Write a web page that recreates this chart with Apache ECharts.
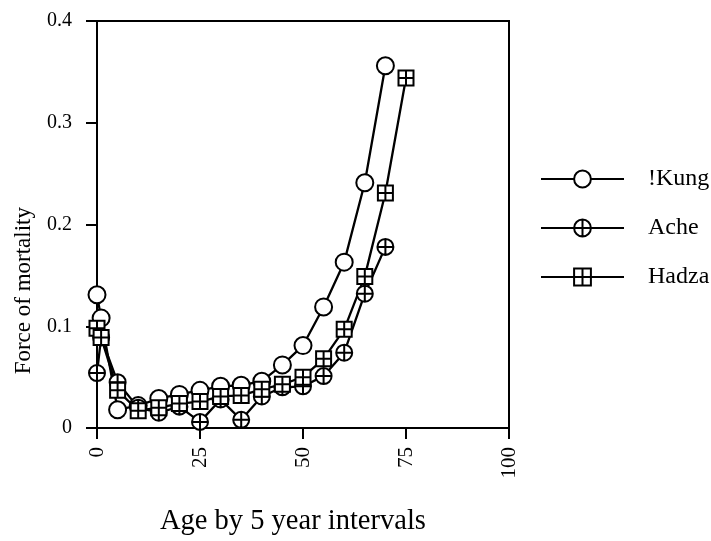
<!DOCTYPE html>
<html>
<head>
<meta charset="utf-8">
<script src="https://cdn.jsdelivr.net/npm/echarts@6/dist/echarts.min.js"></script>
<style>html,body{margin:0;padding:0;background:#fff}#c{width:711px;height:541px}</style>
</head>
<body>
<div id="c"></div>
<script>
const ages = [0, 1, 5, 10, 15, 20, 25, 30, 35, 40, 45, 50, 55, 60, 65, 70, 75];
const kung = [0.131, 0.108, 0.018, 0.022, 0.029, 0.033, 0.037, 0.041, 0.042, 0.046, 0.062, 0.081, 0.119, 0.163, 0.241, 0.356];
const ache = [0.054, 0.089, 0.045, 0.020, 0.015, 0.021, 0.006, 0.028, 0.008, 0.031, 0.040, 0.041, 0.051, 0.074, 0.132, 0.178];
const hadza = [0.098, 0.089, 0.037, 0.017, 0.020, 0.024, 0.026, 0.031, 0.032, 0.038, 0.043, 0.050, 0.068, 0.097, 0.149, 0.231, 0.344];
const xTicks = [0, 25, 50, 75, 100];
const yTicks = [0, 0.1, 0.2, 0.3, 0.4];
const seriesNames = ['!Kung', 'Ache', 'Hadza'];
const xTitle = 'Age by 5 year intervals';
const yTitle = 'Force of mortality';

const FONT = 'Liberation Serif';
const pairs = vals => vals.map((v, i) => [ages[i], v]);
const circlePlus = 'path://M10,0A10,10,0,1,1,10,20A10,10,0,1,1,10,0ZM0,10L20,10M10,0L10,20';
const squarePlus = 'path://M0,0L20,0L20,20L0,20ZM0,10L20,10M10,0L10,20';

function mkSeries(name, vals, symbol, size) {
  return {
    name: name, type: 'line', data: pairs(vals),
    symbol: symbol, symbolSize: size, showAllSymbol: true,
    lineStyle: {color: '#000', width: 2.3},
    itemStyle: {color: '#fff', borderColor: '#000', borderWidth: 2},
    emphasis: {disabled: true}, animation: false
  };
}

const chart = echarts.init(document.getElementById('c'), null, {renderer: 'canvas'});
chart.setOption({
  backgroundColor: '#fff',
  animation: false,
  grid: {left: 97, right: 202, top: 21, bottom: 113, show: true, borderColor: '#000', borderWidth: 2, backgroundColor: 'transparent'},
  xAxis: {
    type: 'value', min: xTicks[0], max: xTicks[xTicks.length - 1], interval: 25,
    axisLine: {lineStyle: {color: '#000', width: 2}},
    axisTick: {inside: false, length: 11, lineStyle: {color: '#000', width: 2}},
    axisLabel: {rotate: 90, margin: 19, color: '#000', fontFamily: FONT, fontSize: 21},
    splitLine: {show: false}
  },
  yAxis: {
    type: 'value', min: yTicks[0], max: yTicks[yTicks.length - 1], interval: 0.1,
    axisLine: {show: true, lineStyle: {color: '#000', width: 2}},
    axisTick: {show: true, inside: false, length: 11, lineStyle: {color: '#000', width: 2}},
    axisLabel: {margin: 25, color: '#000', fontFamily: FONT, fontSize: 20,
      formatter: v => (v === 0 ? '0' : v.toFixed(1))},
    splitLine: {show: false}
  },
  legend: {
    orient: 'vertical', left: 540, top: 167, padding: 0,
    itemWidth: 83, itemHeight: 21, itemGap: 25,
    data: seriesNames,
    textStyle: {color: '#000', fontFamily: FONT, fontSize: 24, padding: [0, 0, 0, 19], lineHeight: 21},
    selectedMode: false
  },
  graphic: [
    {type: 'text', left: 12, top: 207, rotation: Math.PI / 2,
      style: {text: yTitle, fill: '#000', font: '23px "Liberation Serif"'}},
    {type: 'text', left: 160, top: 507,
      style: {text: xTitle, fill: '#000', font: '28.5px "Liberation Serif"'}}
  ],
  series: [
    mkSeries(seriesNames[0], kung, 'circle', 17),
    mkSeries(seriesNames[1], ache, circlePlus, 16),
    mkSeries(seriesNames[2], hadza, squarePlus, 15)
  ]
});
</script>
</body>
</html>
